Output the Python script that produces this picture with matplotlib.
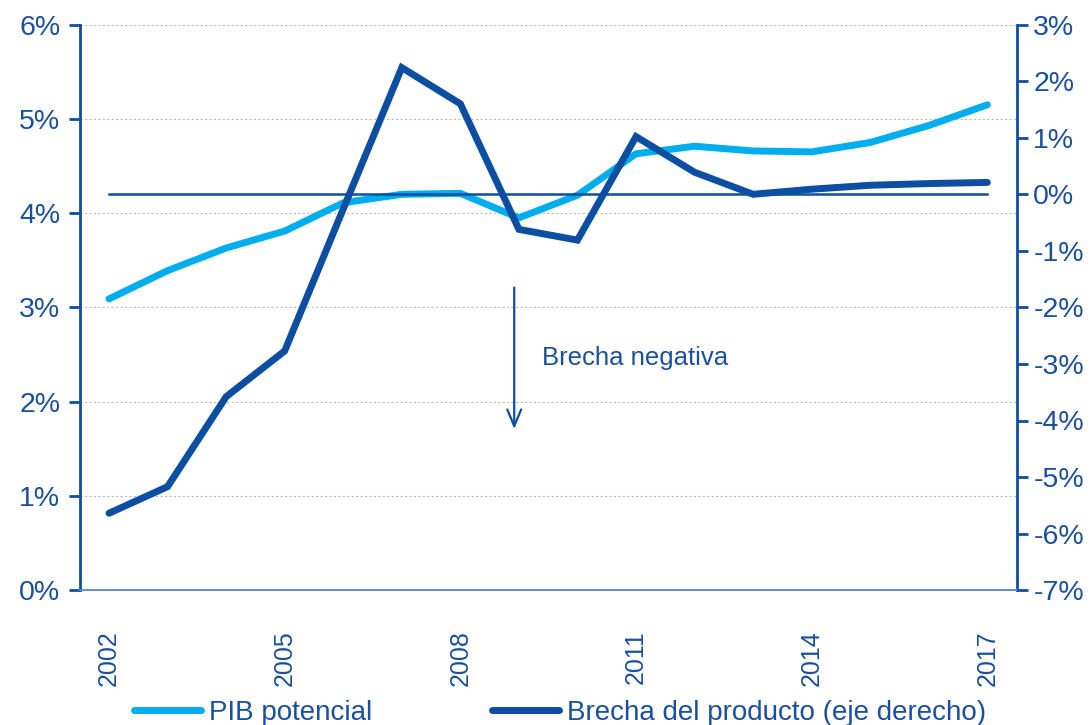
import matplotlib
matplotlib.use("Agg")
import matplotlib.pyplot as plt
from matplotlib.ticker import FuncFormatter
from matplotlib.lines import Line2D

plt.rcParams['font.family'] = ['Liberation Sans', 'DejaVu Sans']

years = list(range(2002, 2018))
pib_potencial = [3.09, 3.39, 3.63, 3.81, 4.11, 4.20, 4.21, 3.95, 4.19, 4.63, 4.71, 4.66, 4.65, 4.75, 4.93, 5.15]
brecha = [-5.64, -5.17, -3.58, -2.77, -0.26, 2.24, 1.60, -0.62, -0.81, 1.02, 0.39, 0.0, 0.09, 0.16, 0.19, 0.21]
xtick_years = [2002, 2005, 2008, 2011, 2014, 2017]

light = '#00AEEF'
dark = '#0B4EA2'
txt = '#1A4FA0'

fig = plt.figure(figsize=(10.92, 7.25), dpi=100)
ax = fig.add_axes([0.073, 0.186, 0.858, 0.780])
ax2 = ax.twinx()

ax.set_xlim(2001.5, 2017.5)
ax.set_ylim(0, 6)
ax2.set_ylim(-7, 3)

ax.yaxis.grid(True, color='#bbbbbb', linestyle=(0, (2, 2)), linewidth=0.8)
ax.set_axisbelow(True)

ax.plot(years, pib_potencial, color=light, lw=5, solid_capstyle='round', solid_joinstyle='round', zorder=3)
ax2.plot([years[0], years[-1]], [0, 0], color=dark, lw=1.8, zorder=2)
ax2.plot(years, brecha, color=dark, lw=5, solid_capstyle='round', solid_joinstyle='miter', zorder=4)

ax.annotate('', xy=(2008.92, 1.68), xytext=(2008.92, 3.24),
            arrowprops=dict(arrowstyle='->,head_length=1.2,head_width=0.5', color=dark, lw=1.6))
ax.text(2009.4, 2.46, 'Brecha negativa', color=txt, fontsize=18.5, va='center', ha='left')

fmt = FuncFormatter(lambda v, p: f'{v:.0f}%')
ax.set_yticks(range(0, 7))
ax.yaxis.set_major_formatter(fmt)
ax2.set_yticks(range(-7, 4))
ax2.yaxis.set_major_formatter(fmt)
ax.set_xticks(xtick_years)
ax.set_xticklabels([str(y) for y in xtick_years], rotation=90)

for a in (ax, ax2):
    a.spines['top'].set_visible(False)
    a.spines['left'].set_color(dark)
    a.spines['right'].set_color(dark)
    a.spines['left'].set_linewidth(2)
    a.spines['right'].set_linewidth(2)
    a.spines['bottom'].set_color('#5b8fd4')
    a.spines['bottom'].set_linewidth(1.2)
ax2.spines['left'].set_visible(False)
ax.spines['right'].set_visible(False)

ax.tick_params(axis='y', colors=txt, labelsize=20.5, length=8, width=2, color=dark, pad=6)
ax2.tick_params(axis='y', colors=txt, labelsize=20.5, length=8, width=2, color=dark, pad=4)
ax.tick_params(axis='x', colors=txt, labelsize=18, length=0, pad=29)

handles = [Line2D([], [], color=light, lw=5, solid_capstyle='round'),
           Line2D([], [], color=dark, lw=5, solid_capstyle='round')]
fig.legend(handles, ['PIB potencial', 'Brecha del producto (eje derecho)'],
           loc='lower left', bbox_to_anchor=(0.100, -0.036), ncol=2, frameon=False,
           fontsize=20, labelcolor=txt, handlelength=2.4, handletextpad=0.3, columnspacing=4.3)

fig.savefig('out.png', dpi=100)
